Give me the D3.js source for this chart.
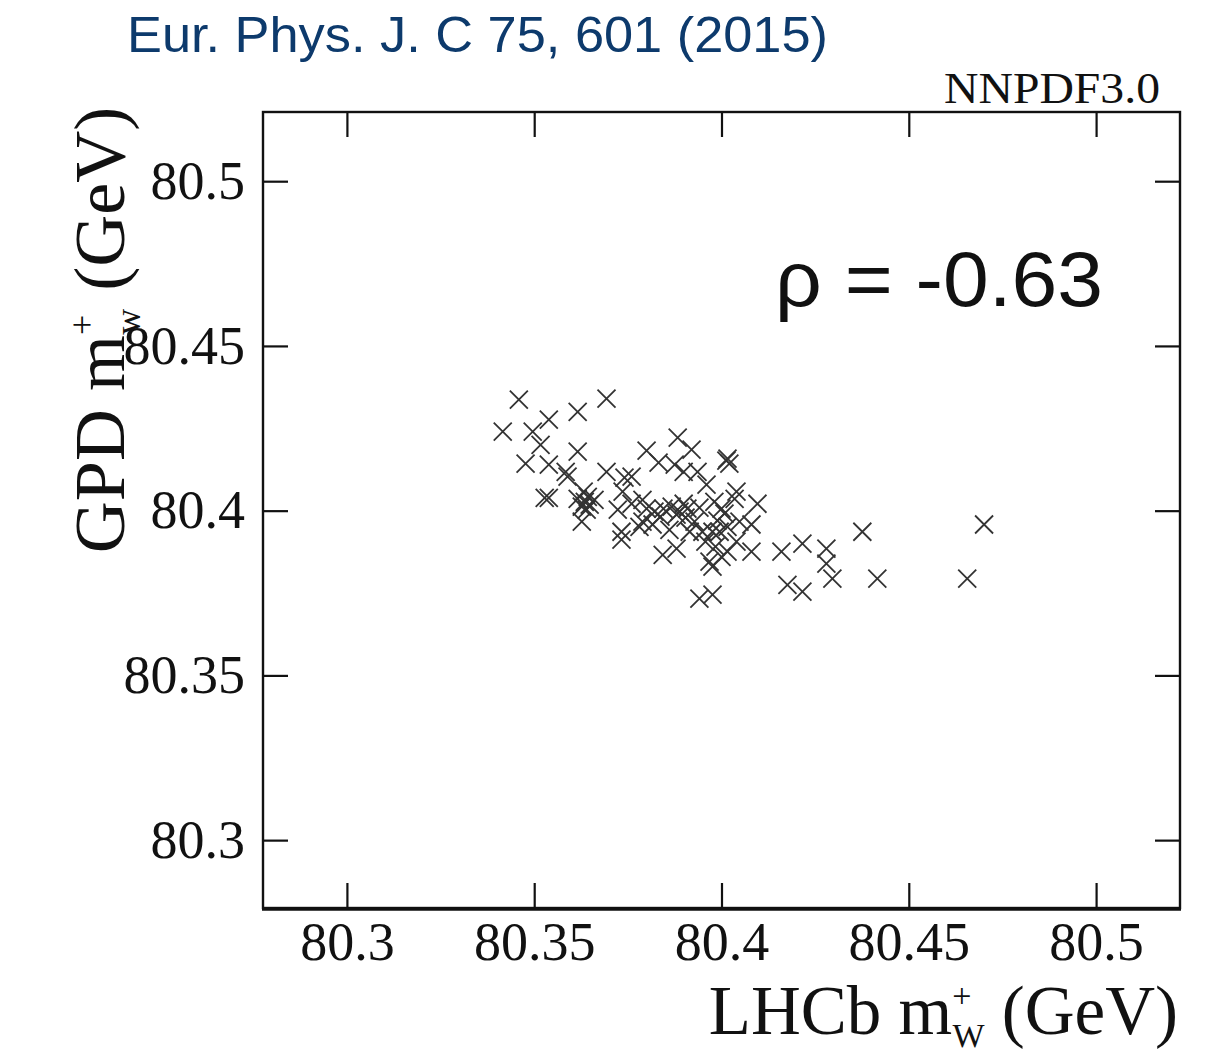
<!DOCTYPE html>
<html>
<head>
<meta charset="utf-8">
<script src="https://cdn.jsdelivr.net/npm/d3@7"></script>
<style>
  html, body { margin: 0; padding: 0; background: #fff; }
  svg { display: block; }
</style>
</head>
<body>
<svg id="chart" width="1205" height="1055"></svg>
<script>
// Replica values of the W+ mass: LHCb acceptance (x) vs GPD acceptance (y), in GeV
const lhcbMass = [
  80.3459, 80.3693, 80.3616, 80.3539, 80.3416, 80.3496, 80.3517, 80.3616, 80.3477, 80.3539,
  80.3584, 80.3589, 80.3528, 80.3539, 80.3632, 80.3643, 80.3635, 80.3648, 80.3627, 80.3640,
  80.3627, 80.3616, 80.3693, 80.3741, 80.3760, 80.3800, 80.3883, 80.3920, 80.3832, 80.3875,
  80.3899, 80.4016, 80.4021, 80.3936, 80.3960, 80.4040, 80.4035, 80.3981, 80.4096, 80.3909,
  80.4000, 80.3723, 80.3760, 80.3789, 80.3733, 80.3733, 80.3789, 80.3800, 80.3888, 80.3880,
  80.3867, 80.3899, 80.3816, 80.3949, 80.3976, 80.3995, 80.3880, 80.3843, 80.3968, 80.3976,
  80.3941, 80.3976, 80.4080, 80.4080, 80.4160, 80.4216, 80.4280, 80.4280, 80.4296, 80.4176,
  80.4216, 80.4376, 80.4416, 80.4656, 80.4701, 80.3928, 80.3957, 80.3984, 80.4016, 80.4040,
  80.4048, 80.4016, 80.3915, 80.3845, 80.3821, 80.3736, 80.3861, 80.4008, 80.3904, 80.3989,
  80.3941, 80.3661, 80.4000, 80.3837, 80.3781, 80.4013
];
const gpdMass = [
  80.4337, 80.4340, 80.4300, 80.4276, 80.4240, 80.4240, 80.4200, 80.4179, 80.4143, 80.4140,
  80.4118, 80.4103, 80.4039, 80.4039, 80.4058, 80.4042, 80.4027, 80.4018, 80.4012, 80.4003,
  80.3967, 80.4036, 80.4118, 80.4100, 80.4103, 80.4182, 80.4222, 80.4185, 80.4146, 80.4140,
  80.4118, 80.4158, 80.4143, 80.4118, 80.4079, 80.4058, 80.4036, 80.4027, 80.4021, 80.4006,
  80.4006, 80.4003, 80.4021, 80.4033, 80.3936, 80.3912, 80.3967, 80.4006, 80.3997, 80.3988,
  80.4012, 80.4021, 80.3958, 80.3936, 80.3936, 80.3936, 80.3885, 80.3866, 80.3845, 80.3830,
  80.3733, 80.3745, 80.3958, 80.3876, 80.3876, 80.3900, 80.3885, 80.3839, 80.3794, 80.3775,
  80.3754, 80.3936, 80.3794, 80.3794, 80.3958, 80.3967, 80.3906, 80.3891, 80.3876, 80.3906,
  80.3967, 80.3951, 80.3936, 80.4006, 80.3997, 80.4058, 80.3942, 80.3991, 80.3979, 80.3970,
  80.4009, 80.4033, 80.3860, 80.3982, 80.3951, 80.4152
];
const tickValues = [80.3, 80.35, 80.4, 80.45, 80.5];
const tickLabels = ["80.3", "80.35", "80.4", "80.45", "80.5"];
const correlation = "-0.63";

const points = lhcbMass.map((x, i) => ({ x, y: gpdMass[i] }));

const svg = d3.select("#chart");
const frame = { left: 263, right: 1180, top: 112, bottom: 908 };

const x = d3.scaleLinear().domain([80.2776, 80.5224]).range([frame.left, frame.right]);
const y = d3.scaleLinear().domain([80.2794, 80.5210]).range([frame.bottom, frame.top]);

const serif = "'Liberation Serif', 'Times New Roman', Times, serif";
const sans = "'Liberation Sans', Helvetica, Arial, sans-serif";
const fmt = d => tickLabels[tickValues.indexOf(d)];

// Citation header
svg.append("text")
  .attr("x", 127).attr("y", 52)
  .attr("font-family", sans).attr("font-size", 50)
  .attr("fill", "#0d3a6c")
  .attr("textLength", 701).attr("lengthAdjust", "spacingAndGlyphs")
  .text("Eur. Phys. J. C 75, 601 (2015)");

// PDF set tag
svg.append("text")
  .attr("x", 1160).attr("y", 103)
  .attr("text-anchor", "end")
  .attr("font-family", serif).attr("font-size", 44)
  .attr("fill", "#111")
  .attr("textLength", 216).attr("lengthAdjust", "spacingAndGlyphs")
  .text("NNPDF3.0");

// Bottom axis with labels, inward ticks
const gx = svg.append("g")
  .attr("transform", `translate(0,${frame.bottom})`)
  .call(d3.axisBottom(x).tickValues(tickValues).tickFormat(fmt).tickSize(-25).tickPadding(14));
gx.selectAll("text").attr("font-family", serif).attr("font-size", 54).attr("fill", "#111");

// Left axis with labels, inward ticks
const gy = svg.append("g")
  .attr("transform", `translate(${frame.left},0)`)
  .call(d3.axisLeft(y).tickValues(tickValues).tickFormat(fmt).tickSize(-25).tickPadding(18));
gy.selectAll("text").attr("font-family", serif).attr("font-size", 54).attr("fill", "#111");

// Mirrored ticks on top and right
svg.append("g")
  .attr("transform", `translate(0,${frame.top})`)
  .call(d3.axisTop(x).tickValues(tickValues).tickFormat("").tickSize(-25));
svg.append("g")
  .attr("transform", `translate(${frame.right},0)`)
  .call(d3.axisRight(y).tickValues(tickValues).tickFormat("").tickSize(-25));

svg.selectAll(".domain").remove();
svg.selectAll(".tick line").attr("stroke", "#111").attr("stroke-width", 2.2);

// Plot frame
svg.append("rect")
  .attr("x", frame.left).attr("y", frame.top)
  .attr("width", frame.right - frame.left).attr("height", frame.bottom - frame.top)
  .attr("fill", "none").attr("stroke", "#111").attr("stroke-width", 2.4);
svg.append("line")
  .attr("x1", frame.left - 1).attr("x2", frame.right + 1)
  .attr("y1", frame.bottom + 1).attr("y2", frame.bottom + 1)
  .attr("stroke", "#111").attr("stroke-width", 3.5);

// Replica markers (crosses)
const s = 9;
svg.append("g")
  .selectAll("path")
  .data(points)
  .join("path")
  .attr("transform", d => `translate(${x(d.x)},${y(d.y)})`)
  .attr("d", `M${-s},${-s}L${s},${s}M${-s},${s}L${s},${-s}`)
  .attr("stroke", "#333")
  .attr("stroke-width", 1.8)
  .attr("fill", "none");

// Correlation coefficient
svg.append("text")
  .attr("x", 775).attr("y", 306)
  .attr("font-family", sans).attr("font-size", 78)
  .attr("fill", "#111")
  .attr("textLength", 328).attr("lengthAdjust", "spacingAndGlyphs")
  .text(`ρ = ${correlation}`);

// X axis title: m with stacked superscript + and subscript W
const xt = svg.append("text")
  .attr("x", 1178).attr("y", 1034)
  .attr("text-anchor", "end")
  .attr("font-family", serif).attr("font-size", 69)
  .attr("fill", "#111");
xt.append("tspan").text("LHCb m");
xt.append("tspan").attr("font-size", 34).attr("dy", -27).text("+");
xt.append("tspan").attr("font-size", 34).attr("dx", -19).attr("dy", 40).text("W");
xt.append("tspan").attr("dy", -13).text(" (GeV)");

// Y axis title
const yt = svg.append("text")
  .attr("transform", "translate(124,330) rotate(-90)")
  .attr("text-anchor", "middle")
  .attr("font-family", serif).attr("font-size", 72)
  .attr("fill", "#111");
yt.append("tspan").text("GPD m");
yt.append("tspan").attr("font-size", 36).attr("dy", -30).text("+");
yt.append("tspan").attr("font-size", 36).attr("dx", -20).attr("dy", 46).text("w");
yt.append("tspan").attr("dy", -16).text(" (GeV)");
</script>
</body>
</html>
